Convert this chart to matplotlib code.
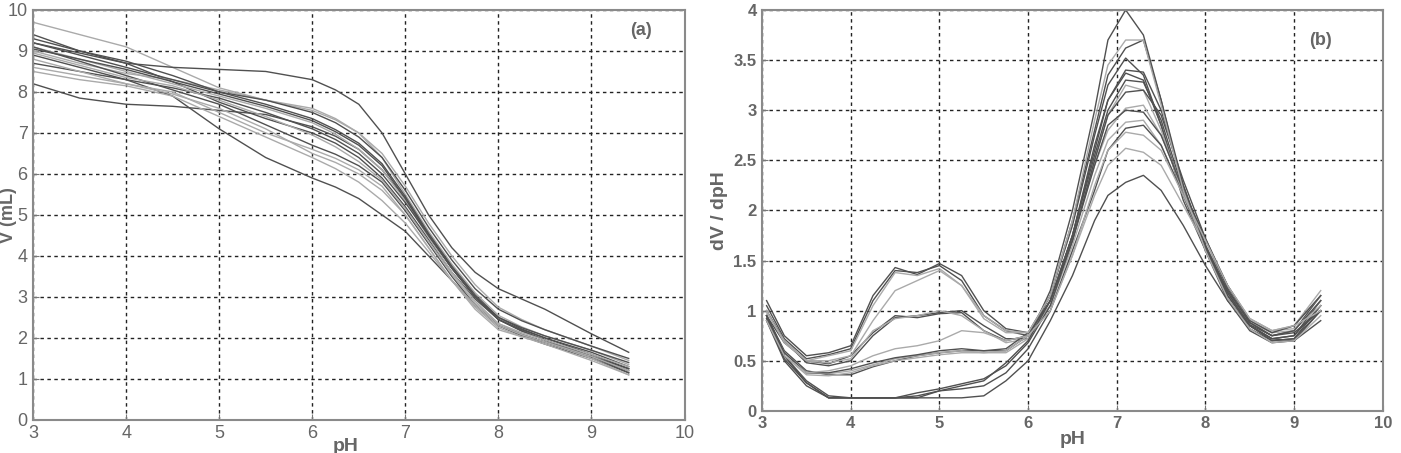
import numpy as np
import matplotlib
matplotlib.use("Agg")
import matplotlib.pyplot as plt

plt.rcParams['font.family'] = ['Liberation Sans Narrow', 'Liberation Sans', 'DejaVu Sans']

# ---- panel (a): V vs pH ----
ph_a = [3.0, 3.5, 4.0, 4.5, 5.0, 5.5, 6.0, 6.25, 6.5, 6.75, 7.0, 7.25, 7.5, 7.75, 8.0, 8.25, 8.5, 9.0, 9.4]
curves_a = [
    [9.70, 9.40, 9.10, 8.60, 8.10, 7.80, 7.55, 7.32, 7.00, 6.50, 5.70, 4.80, 4.00, 3.30, 2.75, 2.45, 2.20, 1.80, 1.45],
    [9.40, 9.00, 8.70, 8.60, 8.55, 8.50, 8.30, 8.05, 7.70, 7.00, 6.00, 5.00, 4.20, 3.60, 3.20, 2.95, 2.70, 2.10, 1.65],
    [8.20, 7.85, 7.70, 7.65, 7.55, 7.45, 7.15, 6.92, 6.60, 6.10, 5.40, 4.50, 3.70, 3.00, 2.45, 2.17, 1.95, 1.55, 1.20],
    [8.70, 8.50, 8.30, 7.90, 7.10, 6.40, 5.90, 5.68, 5.40, 5.00, 4.60, 4.00, 3.40, 2.80, 2.30, 2.05, 1.85, 1.50, 1.15],
    [9.20, 8.95, 8.70, 8.25, 7.75, 7.35, 7.00, 6.75, 6.40, 5.90, 5.20, 4.40, 3.60, 2.95, 2.45, 2.17, 1.95, 1.55, 1.15],
    [9.10, 8.80, 8.50, 8.20, 7.90, 7.60, 7.25, 6.97, 6.60, 6.10, 5.35, 4.45, 3.60, 2.90, 2.35, 2.10, 1.90, 1.50, 1.10],
    [8.90, 8.60, 8.30, 8.10, 7.85, 7.50, 7.10, 6.84, 6.50, 6.00, 5.30, 4.50, 3.70, 3.00, 2.45, 2.20, 2.00, 1.65, 1.30],
    [9.00, 8.70, 8.45, 8.30, 8.05, 7.80, 7.60, 7.35, 7.00, 6.40, 5.50, 4.60, 3.80, 3.10, 2.55, 2.27, 2.05, 1.70, 1.35],
    [9.20, 8.90, 8.60, 8.30, 8.00, 7.80, 7.50, 7.25, 6.90, 6.40, 5.60, 4.70, 3.90, 3.20, 2.70, 2.42, 2.20, 1.80, 1.50],
    [8.60, 8.40, 8.20, 8.00, 7.50, 7.00, 6.60, 6.38, 6.10, 5.70, 5.00, 4.20, 3.40, 2.70, 2.20, 2.03, 1.90, 1.55, 1.25],
    [9.10, 8.75, 8.40, 8.05, 7.70, 7.20, 6.70, 6.48, 6.20, 5.80, 5.10, 4.30, 3.50, 2.80, 2.30, 2.08, 1.90, 1.55, 1.25],
    [8.80, 8.50, 8.20, 7.95, 7.60, 7.10, 6.50, 6.28, 6.00, 5.60, 5.00, 4.20, 3.40, 2.75, 2.25, 2.03, 1.85, 1.45, 1.10],
    [9.30, 9.00, 8.75, 8.40, 8.00, 7.70, 7.35, 7.08, 6.75, 6.25, 5.45, 4.55, 3.75, 3.05, 2.50, 2.22, 2.00, 1.60, 1.25],
    [8.95, 8.65, 8.35, 8.15, 7.80, 7.40, 6.95, 6.66, 6.30, 5.85, 5.15, 4.35, 3.55, 2.85, 2.35, 2.13, 1.95, 1.60, 1.30],
    [9.05, 8.80, 8.55, 8.25, 7.95, 7.65, 7.30, 7.03, 6.70, 6.20, 5.40, 4.50, 3.70, 3.00, 2.50, 2.25, 2.05, 1.70, 1.40],
    [8.50, 8.30, 8.15, 7.90, 7.40, 6.90, 6.40, 6.13, 5.80, 5.35, 4.80, 4.10, 3.40, 2.80, 2.30, 2.08, 1.90, 1.55, 1.20],
]
shade_a = ['l', 'd', 'd', 'd', 'd', 'l', 'd', 'l', 'd', 'l', 'd', 'l', 'd', 'l', 'd', 'l']

# ---- panel (b): dV/dpH vs pH ----
ph_b = [3.05, 3.25, 3.5, 3.75, 4.0, 4.25, 4.5, 4.75, 5.0, 5.25, 5.5, 5.75, 6.0, 6.25,
        6.5, 6.75, 6.9, 7.1, 7.3, 7.5, 7.75, 8.0, 8.25, 8.5, 8.75, 9.0, 9.3]
curves_b = [
    [1.10, 0.75, 0.55, 0.58, 0.65, 1.15, 1.43, 1.36, 1.47, 1.35, 1.00, 0.82, 0.78, 1.15, 1.85, 2.75, 3.25, 3.52, 3.35, 2.85, 2.10, 1.60, 1.15, 0.85, 0.72, 0.75, 1.10],
    [1.05, 0.72, 0.52, 0.56, 0.62, 1.10, 1.40, 1.38, 1.45, 1.30, 0.95, 0.80, 0.75, 1.10, 1.75, 2.60, 3.10, 3.37, 3.30, 2.85, 2.15, 1.62, 1.18, 0.86, 0.75, 0.80, 1.15],
    [1.00, 0.70, 0.50, 0.55, 0.60, 1.05, 1.38, 1.35, 1.42, 1.25, 0.92, 0.78, 0.78, 1.05, 1.70, 2.50, 2.95, 3.25, 3.20, 2.80, 2.15, 1.65, 1.20, 0.88, 0.78, 0.85, 1.20],
    [1.00, 0.70, 0.48, 0.45, 0.50, 0.75, 0.93, 0.95, 0.98, 1.00, 0.85, 0.72, 0.72, 1.20, 2.00, 3.00, 3.70, 4.00, 3.75, 3.10, 2.20, 1.60, 1.10, 0.80, 0.68, 0.70, 1.00],
    [0.95, 0.68, 0.50, 0.47, 0.55, 0.78, 0.95, 0.93, 0.97, 0.98, 0.80, 0.70, 0.75, 1.15, 1.90, 2.80, 3.35, 3.62, 3.70, 3.10, 2.25, 1.62, 1.12, 0.82, 0.70, 0.72, 1.05],
    [0.98, 0.70, 0.50, 0.48, 0.52, 0.80, 0.92, 0.95, 1.00, 0.95, 0.80, 0.68, 0.72, 1.10, 1.75, 2.45, 2.80, 3.02, 3.05, 2.75, 2.20, 1.70, 1.25, 0.92, 0.80, 0.85, 1.15],
    [0.95, 0.60, 0.40, 0.36, 0.36, 0.44, 0.50, 0.55, 0.58, 0.60, 0.60, 0.60, 0.75, 1.10, 1.75, 2.55, 3.00, 3.30, 3.28, 2.90, 2.20, 1.65, 1.18, 0.85, 0.72, 0.75, 1.05],
    [0.92, 0.58, 0.38, 0.37, 0.40, 0.46, 0.52, 0.55, 0.58, 0.60, 0.58, 0.58, 0.72, 1.05, 1.65, 2.35, 2.70, 2.88, 2.90, 2.65, 2.15, 1.70, 1.25, 0.90, 0.78, 0.80, 1.10],
    [0.90, 0.55, 0.36, 0.35, 0.38, 0.45, 0.50, 0.53, 0.56, 0.58, 0.58, 0.60, 0.75, 1.00, 1.55, 2.15, 2.45, 2.62, 2.58, 2.45, 2.05, 1.65, 1.25, 0.92, 0.80, 0.82, 1.05],
    [0.95, 0.58, 0.38, 0.38, 0.42, 0.48, 0.53, 0.56, 0.60, 0.62, 0.60, 0.62, 0.78, 1.10, 1.70, 2.45, 2.85, 3.00, 2.98, 2.75, 2.20, 1.72, 1.25, 0.90, 0.78, 0.85, 1.15],
    [0.90, 0.50, 0.25, 0.13, 0.13, 0.13, 0.13, 0.13, 0.13, 0.13, 0.15, 0.30, 0.50, 0.90, 1.35, 1.90, 2.15, 2.28, 2.35, 2.20, 1.85, 1.45, 1.10, 0.85, 0.72, 0.70, 0.90],
    [0.92, 0.52, 0.28, 0.13, 0.13, 0.13, 0.13, 0.13, 0.20, 0.22, 0.25, 0.38, 0.62, 1.00, 1.60, 2.20, 2.60, 2.82, 2.85, 2.65, 2.15, 1.65, 1.20, 0.88, 0.75, 0.78, 1.00],
    [0.95, 0.55, 0.30, 0.15, 0.13, 0.13, 0.13, 0.15, 0.20, 0.25, 0.30, 0.48, 0.70, 1.10, 1.75, 2.65, 3.10, 3.40, 3.38, 3.00, 2.25, 1.65, 1.15, 0.85, 0.70, 0.72, 1.00],
    [0.95, 0.55, 0.28, 0.13, 0.13, 0.13, 0.13, 0.18, 0.22, 0.27, 0.32, 0.45, 0.68, 1.05, 1.70, 2.50, 2.95, 3.18, 3.20, 2.95, 2.30, 1.72, 1.22, 0.88, 0.75, 0.80, 1.10],
    [1.00, 0.68, 0.50, 0.50, 0.55, 0.90, 1.20, 1.30, 1.40, 1.25, 0.95, 0.80, 0.78, 1.15, 1.90, 2.90, 3.45, 3.70, 3.70, 3.05, 2.20, 1.60, 1.12, 0.82, 0.68, 0.70, 0.95],
    [0.90, 0.55, 0.38, 0.40, 0.45, 0.55, 0.62, 0.65, 0.70, 0.80, 0.78, 0.70, 0.75, 1.00, 1.55, 2.25, 2.60, 2.78, 2.75, 2.60, 2.15, 1.70, 1.25, 0.92, 0.80, 0.85, 1.00],
]
shade_b = ['d', 'd', 'l', 'd', 'd', 'l', 'd', 'l', 'l', 'd', 'd', 'd', 'd', 'd', 'l', 'l']

xticks = [3, 4, 5, 6, 7, 8, 9, 10]
yticks_a = [0, 1, 2, 3, 4, 5, 6, 7, 8, 9, 10]
yticks_b = [0, 0.5, 1, 1.5, 2, 2.5, 3, 3.5, 4]
yticklabels_b = ['0', '0.5', '1', '1.5', '2', '2.5', '3', '3.5', '4']

colors = {'d': '#505050', 'l': '#aaaaaa'}
tcol = '#666666'

fig = plt.figure(figsize=(14.01, 4.53), dpi=100)
ax1 = fig.add_axes([0.0236, 0.073, 0.465, 0.905])
ax2 = fig.add_axes([0.544, 0.093, 0.443, 0.885])

for v, s in zip(curves_a, shade_a):
    ax1.plot(ph_a, v, color=colors[s], lw=1.0)
for v, s in zip(curves_b, shade_b):
    ax2.plot(ph_b, v, color=colors[s], lw=1.0)

for ax in (ax1, ax2):
    ax.set_xlim(3, 10)
    ax.set_xticks(xticks)
    ax.grid(True, color='#222222', linestyle=(0, (2.5, 2.5)), lw=1.0)
    ax.tick_params(direction='in', length=4, color='#777777', colors=tcol, pad=4)
    for sp in ax.spines.values():
        sp.set_color('#8a8a8a')
        sp.set_linewidth(1.5)

ax1.set_ylim(0, 10)
ax1.set_yticks(yticks_a)
ax1.tick_params(labelsize=13)
ax1.set_xlabel('pH', fontsize=14, fontweight='bold', color=tcol)
ax1.xaxis.set_label_coords(0.48, -0.045)
ax1.set_ylabel('V (mL)', fontsize=13, fontweight='bold', color=tcol)
ax1.yaxis.set_label_coords(-0.024, 0.5)
ax1.text(9.53, 9.5, '(a)', fontsize=13, fontweight='bold', color=tcol, ha='center', va='center')

ax2.set_ylim(0, 4)
ax2.set_yticks(yticks_b)
ax2.set_yticklabels(yticklabels_b)
ax2.tick_params(labelsize=12)
for lab in ax2.get_xticklabels() + ax2.get_yticklabels():
    lab.set_fontweight('bold')
ax2.set_xlabel('pH', fontsize=14, fontweight='bold', color=tcol, labelpad=0)
ax2.set_ylabel('dV / dpH', fontsize=14, fontweight='bold', color=tcol, labelpad=4)
ax2.text(9.3, 3.7, '(b)', fontsize=13, fontweight='bold', color=tcol, ha='center', va='center')

fig.savefig('out.png', dpi=100)
